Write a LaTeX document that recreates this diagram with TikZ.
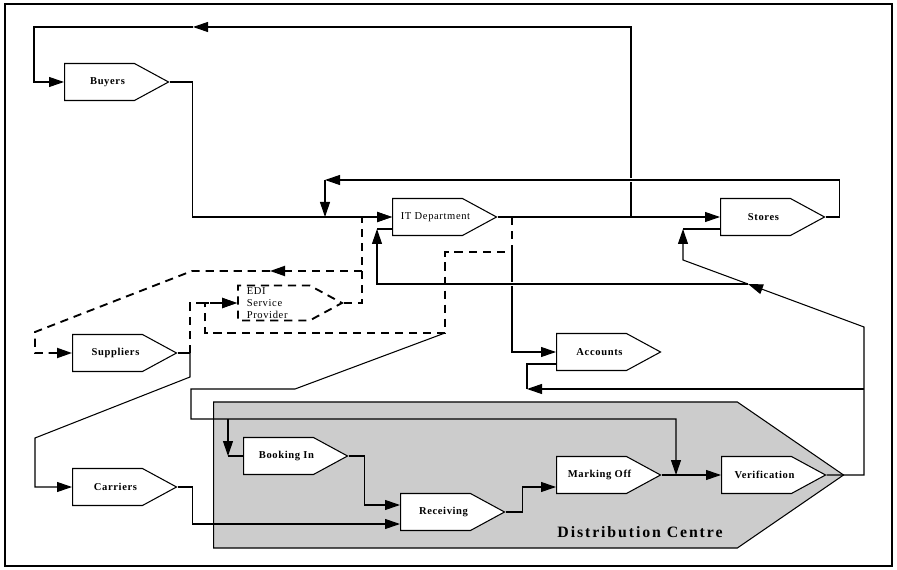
\documentclass[tikz,border=0pt]{standalone}
\usepackage{fontspec}
\setmainfont{Liberation Serif}
\newfontfamily\lblfont[LetterSpace=6]{Liberation Serif}
\newfontfamily\dcfont[LetterSpace=12]{Liberation Serif}
\usepackage{tikz}
\usetikzlibrary{arrows.meta}
\usetikzlibrary{shapes.symbols}
\usetikzlibrary{calc}

\tikzset{
  unitshape/.style={draw, line width=0.9pt, fill=white, signal, signal to=east,
    signal pointer angle=57, minimum width=3.12cm, minimum height=1.11cm,
    inner sep=0pt, anchor=west},
  unit/.style={unitshape, font=\lblfont\fontsize{9}{11}\selectfont\bfseries,
    execute at begin node={\hbox to 0pt\bgroup\hss\hspace*{0.48cm}},
    execute at end node={\hss\egroup}},
  flow/.style={line width=0.9pt},
  edi/.style={line width=1.6pt, dash pattern=on 7pt off 5pt},
  bridge/.style={preaction={draw=white, line width=4pt}}
}

\begin{document}
\begin{tikzpicture}[x=0.03cm, y=-0.03cm,
    >={Triangle[length=4.5mm, width=3mm]}]
  \useasboundingbox (0,0) rectangle (897,570);
  \draw[line width=1.3pt] (5,4) rectangle (892,566);

  % distribution centre
  \node[draw, line width=0.9pt, fill=black!20, signal, signal to=east,
    signal pointer angle=69, minimum width=18.9cm, minimum height=4.38cm,
    inner sep=0pt, anchor=west] (dc) at (213,475) {};
  \node[font=\dcfont\fontsize{13.5}{15}\selectfont\bfseries] (dctext) at (640,532) {Distribution Centre};

  % units
  \node[unit] (buyers) at (64,82) {Buyers};
  \node[unit, font=\lblfont\fontsize{9}{11}\selectfont] (it) at (392,217) {IT Department};
  \node[unit] (stores) at (720,217) {Stores};
  \node[unitshape, edi, minimum height=1.05cm, align=left,
    font=\lblfont\fontsize{9}{10}\selectfont] (edi) at (237,303) {EDI\\Service\\Provider\hspace*{0.4cm}};
  \node[unit] (suppliers) at (72,353) {Suppliers};
  \node[unit] (accounts) at (556,352) {Accounts};
  \node[unit] (carriers) at (72,487) {Carriers};
  \node[unit] (booking) at (243,456) {Booking In};
  \node[unit] (receiving) at (400,512) {Receiving};
  \node[unit] (marking) at (556,475) {Marking Off};
  \node[unit] (verif) at (721,475) {Verification};

  % junctions
  \coordinate (jtop) at (631,217);
  \coordinate (kbuy) at (193,27);
  \coordinate (kst) at (325,180);
  \coordinate (jbuy) at (325,217);
  \coordinate (jacc) at (512,252);
  \coordinate (jdash) at (512,217);
  \coordinate (jst) at (748,284);
  \coordinate (kit) at (377,229);
  \coordinate (kstore) at (683,229);
  \coordinate (jsup) at (362,271);
  \coordinate (ksup) at (270,271);
  \coordinate (kedi) at (320,333);
  \coordinate (kdc) at (445,333);
  \coordinate (jsp) at (190,353);
  \coordinate (jbk) at (228,419);
  \coordinate (kbk) at (228,456);
  \coordinate (jver) at (676,475);
  \coordinate (jac) at (864,389);
  \coordinate (kac) at (527,389);

  % buyers loop
  \draw[flow,->] (it.east) -- (stores.west);
  \draw[flow,->] (jtop) -- (631,27) -- (kbuy);
  \draw[flow,->] (kbuy) -- (34,27) |- (buyers.west);
  \draw[flow,->] (buyers.east) -- ++(23,0) |- (it.west);
  \draw[flow,bridge,->] (stores.east) -- ++(14,0) |- (kst);
  \draw[flow,->] (kst) -- (jbuy);

  % accounts
  \draw[flow,->] (jacc) |- (accounts.west);
  \draw[flow,bridge,->] (jst) -- (377,284) -- (kit);
  \draw[flow] (kit) -- ($(it.west)+(0,12)$);
  \draw[flow,->] (verif.east) -- (dc.east) -- (864,475) -- (864,327) -- (jst);
  \draw[flow,->] (jst) -- (683,260) -- (kstore);
  \draw[flow] (kstore) -- ($(stores.west)+(0,12)$);
  \draw[flow,->] (jac) -- (kac);
  \draw[flow] (kac) |- ($(accounts.west)+(0,12)$);

  % edi links
  \draw[edi,->] (edi.east) -| ($(it.west)+(-30,0)$) -- (it.west);
  \draw[edi,->] (jsup) -- (ksup);
  \draw[edi,->] (ksup) -- (192,271) -- (35,332) |- (suppliers.west);
  \draw[edi] (jdash) -- (jacc) -- (445,252) -- (kdc) -- (kedi);
  \draw[edi,->] (kedi) -- (205,333) |- (edi.west);
  \draw[flow] (suppliers.east) -- (jsp);
  \draw[edi,->] (jsp) |- (edi.west);
  \draw[flow,->] (jsp) -- (190,377) -- (35,438) |- (carriers.west);

  % into the centre
  \draw[flow,->] (kdc) -- (295,389) -| (191,419) -| (jver);
  \draw[flow,->] (jbk) -- (kbk);
  \draw[flow] (kbk) -- (booking.west);
  \draw[flow,->] (booking.east) -- ++(16,0) |- ($(receiving.west)+(0,-7)$);
  \draw[flow,->] (carriers.east) -- ++(15,0) |- ($(receiving.west)+(0,12)$);
  \draw[flow,->] (receiving.east) -- ++(17,0) |- ($(marking.west)+(0,12)$);
  \draw[flow,->] (marking.east) -- (verif.west);
\end{tikzpicture}
\end{document}
